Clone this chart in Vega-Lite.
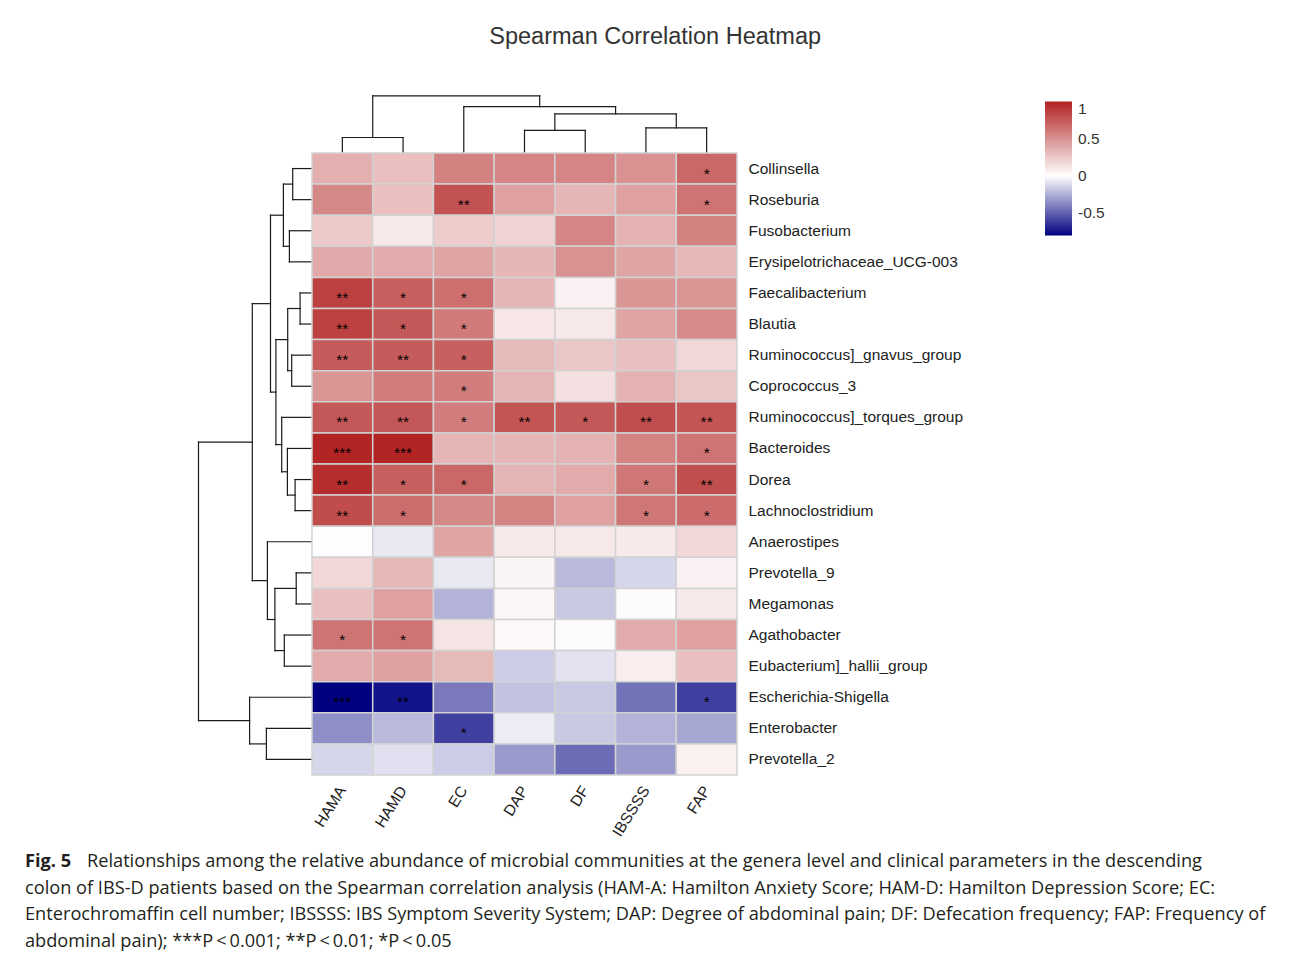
{
  "$schema": "https://vega.github.io/schema/vega-lite/v6.json",
  "background": "white",
  "padding": {"left": 25, "top": 25, "right": 10, "bottom": 5},
  "title": {"text": "Spearman Correlation Heatmap", "fontSize": 23.5, "font": "Liberation Sans", "fontWeight": "normal", "color": "#333333", "anchor": "middle", "frame": "bounds", "dx": 10, "offset": 45.5},
  "config": {"view": {"stroke": null}, "font": "Liberation Sans"},
  "bounds": "flush",
  "spacing": 0,
  "columns": 3,
  "resolve": {"scale": {"color": "independent"}, "legend": {"color": "independent"}},
  "concat": [
    {"width": 173, "height": 58.5, "data": {"values": [{}]}, "mark": {"type": "point", "opacity": 0}, "encoding": {}},
    {"width": 114, "height": 58.5, "data": {"values": [{}]}, "mark": {"type": "point", "opacity": 0}, "encoding": {}},
    {
      "width": 425, "height": 58.5,
      "data": {"values": [
        {"x": 0, "x2": 0, "y": 0, "y2": 15}, {"x": 1, "x2": 1, "y": 0, "y2": 15}, {"x": 0, "x2": 1, "y": 15, "y2": 15},
        {"x": 3, "x2": 3, "y": 0, "y2": 22.2}, {"x": 4, "x2": 4, "y": 0, "y2": 22.2}, {"x": 3, "x2": 4, "y": 22.2, "y2": 22.2},
        {"x": 5, "x2": 5, "y": 0, "y2": 24.7}, {"x": 6, "x2": 6, "y": 0, "y2": 24.7}, {"x": 5, "x2": 6, "y": 24.7, "y2": 24.7},
        {"x": 3.5, "x2": 3.5, "y": 22.2, "y2": 38.7}, {"x": 5.5, "x2": 5.5, "y": 24.7, "y2": 38.7}, {"x": 3.5, "x2": 5.5, "y": 38.7, "y2": 38.7},
        {"x": 2, "x2": 2, "y": 0, "y2": 45.9}, {"x": 4.5, "x2": 4.5, "y": 38.7, "y2": 45.9}, {"x": 2, "x2": 4.5, "y": 45.9, "y2": 45.9},
        {"x": 0.5, "x2": 0.5, "y": 15, "y2": 56.6}, {"x": 3.25, "x2": 3.25, "y": 45.9, "y2": 56.6}, {"x": 0.5, "x2": 3.25, "y": 56.6, "y2": 56.6}
      ]},
      "mark": {"type": "rule", "color": "#1a1a1a", "strokeWidth": 1.2, "strokeCap": "square"},
      "encoding": {
        "x": {"field": "x", "type": "quantitative", "scale": {"domain": [-0.5, 6.5], "nice": false, "zero": false}, "axis": null},
        "x2": {"field": "x2"},
        "y": {"field": "y", "type": "quantitative", "scale": {"domain": [0, 58.5], "nice": false, "zero": false}, "axis": null},
        "y2": {"field": "y2"}
      }
    },
    {"width": 173, "height": 622, "data": {"values": [{}]}, "mark": {"type": "point", "opacity": 0}, "encoding": {}},
    {
      "width": 114, "height": 622,
      "data": {"values": [
        {"x": 0, "x2": 19.3, "y": 0, "y2": 0}, {"x": 0, "x2": 19.3, "y": 1, "y2": 1}, {"x": 19.3, "x2": 19.3, "y": 0, "y2": 1},
        {"x": 0, "x2": 22.6, "y": 2, "y2": 2}, {"x": 0, "x2": 22.6, "y": 3, "y2": 3}, {"x": 22.6, "x2": 22.6, "y": 2, "y2": 3},
        {"x": 19.3, "x2": 28.6, "y": 0.5, "y2": 0.5}, {"x": 22.6, "x2": 28.6, "y": 2.5, "y2": 2.5}, {"x": 28.6, "x2": 28.6, "y": 0.5, "y2": 2.5},
        {"x": 0, "x2": 11.9, "y": 4, "y2": 4}, {"x": 0, "x2": 11.9, "y": 5, "y2": 5}, {"x": 11.9, "x2": 11.9, "y": 4, "y2": 5},
        {"x": 0, "x2": 20.3, "y": 6, "y2": 6}, {"x": 0, "x2": 20.3, "y": 7, "y2": 7}, {"x": 20.3, "x2": 20.3, "y": 6, "y2": 7},
        {"x": 11.9, "x2": 24.3, "y": 4.5, "y2": 4.5}, {"x": 20.3, "x2": 24.3, "y": 6.5, "y2": 6.5}, {"x": 24.3, "x2": 24.3, "y": 4.5, "y2": 6.5},
        {"x": 0, "x2": 16.9, "y": 10, "y2": 10}, {"x": 0, "x2": 16.9, "y": 11, "y2": 11}, {"x": 16.9, "x2": 16.9, "y": 10, "y2": 11},
        {"x": 0, "x2": 24.6, "y": 9, "y2": 9}, {"x": 16.9, "x2": 24.6, "y": 10.5, "y2": 10.5}, {"x": 24.6, "x2": 24.6, "y": 9, "y2": 10.5},
        {"x": 0, "x2": 30.3, "y": 8, "y2": 8}, {"x": 24.6, "x2": 30.3, "y": 9.75, "y2": 9.75}, {"x": 30.3, "x2": 30.3, "y": 8, "y2": 9.75},
        {"x": 24.3, "x2": 36.1, "y": 5.5, "y2": 5.5}, {"x": 30.3, "x2": 36.1, "y": 8.875, "y2": 8.875}, {"x": 36.1, "x2": 36.1, "y": 5.5, "y2": 8.875},
        {"x": 28.6, "x2": 41.5, "y": 1.5, "y2": 1.5}, {"x": 36.1, "x2": 41.5, "y": 7.1875, "y2": 7.1875}, {"x": 41.5, "x2": 41.5, "y": 1.5, "y2": 7.1875},
        {"x": 0, "x2": 15.8, "y": 13, "y2": 13}, {"x": 0, "x2": 15.8, "y": 14, "y2": 14}, {"x": 15.8, "x2": 15.8, "y": 13, "y2": 14},
        {"x": 0, "x2": 27.7, "y": 15, "y2": 15}, {"x": 0, "x2": 27.7, "y": 16, "y2": 16}, {"x": 27.7, "x2": 27.7, "y": 15, "y2": 16},
        {"x": 15.8, "x2": 37.1, "y": 13.5, "y2": 13.5}, {"x": 27.7, "x2": 37.1, "y": 15.5, "y2": 15.5}, {"x": 37.1, "x2": 37.1, "y": 13.5, "y2": 15.5},
        {"x": 0, "x2": 44.6, "y": 12, "y2": 12}, {"x": 37.1, "x2": 44.6, "y": 14.5, "y2": 14.5}, {"x": 44.6, "x2": 44.6, "y": 12, "y2": 14.5},
        {"x": 41.5, "x2": 59.7, "y": 4.34375, "y2": 4.34375}, {"x": 44.6, "x2": 59.7, "y": 13.25, "y2": 13.25}, {"x": 59.7, "x2": 59.7, "y": 4.34375, "y2": 13.25},
        {"x": 0, "x2": 45.6, "y": 18, "y2": 18}, {"x": 0, "x2": 45.6, "y": 19, "y2": 19}, {"x": 45.6, "x2": 45.6, "y": 18, "y2": 19},
        {"x": 0, "x2": 62.4, "y": 17, "y2": 17}, {"x": 45.6, "x2": 62.4, "y": 18.5, "y2": 18.5}, {"x": 62.4, "x2": 62.4, "y": 17, "y2": 18.5},
        {"x": 59.7, "x2": 113.5, "y": 8.796875, "y2": 8.796875}, {"x": 62.4, "x2": 113.5, "y": 17.75, "y2": 17.75}, {"x": 113.5, "x2": 113.5, "y": 8.796875, "y2": 17.75}
      ]},
      "mark": {"type": "rule", "color": "#1a1a1a", "strokeWidth": 1.2, "strokeCap": "square"},
      "encoding": {
        "x": {"field": "x", "type": "quantitative", "scale": {"domain": [0, 114], "reverse": true, "nice": false, "zero": false}, "axis": null},
        "x2": {"field": "x2"},
        "y": {"field": "y", "type": "quantitative", "scale": {"domain": [-0.5, 19.5], "reverse": true, "nice": false, "zero": false}, "axis": null},
        "y2": {"field": "y2"}
      }
    },
    {
      "width": 425, "height": 622,
      "data": {"values": [
        {"g": "Collinsella", "v": "HAMA", "r": 0.36, "s": ""}, {"g": "Collinsella", "v": "HAMD", "r": 0.29, "s": ""}, {"g": "Collinsella", "v": "EC", "r": 0.57, "s": ""}, {"g": "Collinsella", "v": "DAP", "r": 0.55, "s": ""}, {"g": "Collinsella", "v": "DF", "r": 0.55, "s": ""}, {"g": "Collinsella", "v": "IBSSSS", "r": 0.5, "s": ""}, {"g": "Collinsella", "v": "FAP", "r": 0.69, "s": "*"},
        {"g": "Roseburia", "v": "HAMA", "r": 0.54, "s": ""}, {"g": "Roseburia", "v": "HAMD", "r": 0.29, "s": ""}, {"g": "Roseburia", "v": "EC", "r": 0.78, "s": "**"}, {"g": "Roseburia", "v": "DAP", "r": 0.43, "s": ""}, {"g": "Roseburia", "v": "DF", "r": 0.33, "s": ""}, {"g": "Roseburia", "v": "IBSSSS", "r": 0.43, "s": ""}, {"g": "Roseburia", "v": "FAP", "r": 0.63, "s": "*"},
        {"g": "Fusobacterium", "v": "HAMA", "r": 0.25, "s": ""}, {"g": "Fusobacterium", "v": "HAMD", "r": 0.1, "s": ""}, {"g": "Fusobacterium", "v": "EC", "r": 0.23, "s": ""}, {"g": "Fusobacterium", "v": "DAP", "r": 0.2, "s": ""}, {"g": "Fusobacterium", "v": "DF", "r": 0.55, "s": ""}, {"g": "Fusobacterium", "v": "IBSSSS", "r": 0.35, "s": ""}, {"g": "Fusobacterium", "v": "FAP", "r": 0.57, "s": ""},
        {"g": "Erysipelotrichaceae_UCG-003", "v": "HAMA", "r": 0.39, "s": ""}, {"g": "Erysipelotrichaceae_UCG-003", "v": "HAMD", "r": 0.38, "s": ""}, {"g": "Erysipelotrichaceae_UCG-003", "v": "EC", "r": 0.41, "s": ""}, {"g": "Erysipelotrichaceae_UCG-003", "v": "DAP", "r": 0.33, "s": ""}, {"g": "Erysipelotrichaceae_UCG-003", "v": "DF", "r": 0.5, "s": ""}, {"g": "Erysipelotrichaceae_UCG-003", "v": "IBSSSS", "r": 0.41, "s": ""}, {"g": "Erysipelotrichaceae_UCG-003", "v": "FAP", "r": 0.32, "s": ""},
        {"g": "Faecalibacterium", "v": "HAMA", "r": 0.86, "s": "**"}, {"g": "Faecalibacterium", "v": "HAMD", "r": 0.72, "s": "*"}, {"g": "Faecalibacterium", "v": "EC", "r": 0.65, "s": "*"}, {"g": "Faecalibacterium", "v": "DAP", "r": 0.33, "s": ""}, {"g": "Faecalibacterium", "v": "DF", "r": 0.06, "s": ""}, {"g": "Faecalibacterium", "v": "IBSSSS", "r": 0.48, "s": ""}, {"g": "Faecalibacterium", "v": "FAP", "r": 0.48, "s": ""},
        {"g": "Blautia", "v": "HAMA", "r": 0.86, "s": "**"}, {"g": "Blautia", "v": "HAMD", "r": 0.75, "s": "*"}, {"g": "Blautia", "v": "EC", "r": 0.6, "s": "*"}, {"g": "Blautia", "v": "DAP", "r": 0.11, "s": ""}, {"g": "Blautia", "v": "DF", "r": 0.1, "s": ""}, {"g": "Blautia", "v": "IBSSSS", "r": 0.41, "s": ""}, {"g": "Blautia", "v": "FAP", "r": 0.53, "s": ""},
        {"g": "Ruminococcus]_gnavus_group", "v": "HAMA", "r": 0.74, "s": "**"}, {"g": "Ruminococcus]_gnavus_group", "v": "HAMD", "r": 0.74, "s": "**"}, {"g": "Ruminococcus]_gnavus_group", "v": "EC", "r": 0.72, "s": "*"}, {"g": "Ruminococcus]_gnavus_group", "v": "DAP", "r": 0.31, "s": ""}, {"g": "Ruminococcus]_gnavus_group", "v": "DF", "r": 0.26, "s": ""}, {"g": "Ruminococcus]_gnavus_group", "v": "IBSSSS", "r": 0.29, "s": ""}, {"g": "Ruminococcus]_gnavus_group", "v": "FAP", "r": 0.18, "s": ""},
        {"g": "Coprococcus_3", "v": "HAMA", "r": 0.48, "s": ""}, {"g": "Coprococcus_3", "v": "HAMD", "r": 0.59, "s": ""}, {"g": "Coprococcus_3", "v": "EC", "r": 0.59, "s": "*"}, {"g": "Coprococcus_3", "v": "DAP", "r": 0.34, "s": ""}, {"g": "Coprococcus_3", "v": "DF", "r": 0.14, "s": ""}, {"g": "Coprococcus_3", "v": "IBSSSS", "r": 0.35, "s": ""}, {"g": "Coprococcus_3", "v": "FAP", "r": 0.26, "s": ""},
        {"g": "Ruminococcus]_torques_group", "v": "HAMA", "r": 0.76, "s": "**"}, {"g": "Ruminococcus]_torques_group", "v": "HAMD", "r": 0.76, "s": "**"}, {"g": "Ruminococcus]_torques_group", "v": "EC", "r": 0.59, "s": "*"}, {"g": "Ruminococcus]_torques_group", "v": "DAP", "r": 0.77, "s": "**"}, {"g": "Ruminococcus]_torques_group", "v": "DF", "r": 0.76, "s": "*"}, {"g": "Ruminococcus]_torques_group", "v": "IBSSSS", "r": 0.8, "s": "**"}, {"g": "Ruminococcus]_torques_group", "v": "FAP", "r": 0.77, "s": "**"},
        {"g": "Bacteroides", "v": "HAMA", "r": 0.99, "s": "***"}, {"g": "Bacteroides", "v": "HAMD", "r": 0.99, "s": "***"}, {"g": "Bacteroides", "v": "EC", "r": 0.33, "s": ""}, {"g": "Bacteroides", "v": "DAP", "r": 0.33, "s": ""}, {"g": "Bacteroides", "v": "DF", "r": 0.35, "s": ""}, {"g": "Bacteroides", "v": "IBSSSS", "r": 0.56, "s": ""}, {"g": "Bacteroides", "v": "FAP", "r": 0.63, "s": "*"},
        {"g": "Dorea", "v": "HAMA", "r": 0.95, "s": "**"}, {"g": "Dorea", "v": "HAMD", "r": 0.72, "s": "*"}, {"g": "Dorea", "v": "EC", "r": 0.69, "s": "*"}, {"g": "Dorea", "v": "DAP", "r": 0.34, "s": ""}, {"g": "Dorea", "v": "DF", "r": 0.38, "s": ""}, {"g": "Dorea", "v": "IBSSSS", "r": 0.62, "s": "*"}, {"g": "Dorea", "v": "FAP", "r": 0.8, "s": "**"},
        {"g": "Lachnoclostridium", "v": "HAMA", "r": 0.81, "s": "**"}, {"g": "Lachnoclostridium", "v": "HAMD", "r": 0.66, "s": "*"}, {"g": "Lachnoclostridium", "v": "EC", "r": 0.54, "s": ""}, {"g": "Lachnoclostridium", "v": "DAP", "r": 0.56, "s": ""}, {"g": "Lachnoclostridium", "v": "DF", "r": 0.43, "s": ""}, {"g": "Lachnoclostridium", "v": "IBSSSS", "r": 0.62, "s": "*"}, {"g": "Lachnoclostridium", "v": "FAP", "r": 0.67, "s": "*"},
        {"g": "Anaerostipes", "v": "HAMA", "r": 0.01, "s": ""}, {"g": "Anaerostipes", "v": "HAMD", "r": -0.07, "s": ""}, {"g": "Anaerostipes", "v": "EC", "r": 0.41, "s": ""}, {"g": "Anaerostipes", "v": "DAP", "r": 0.1, "s": ""}, {"g": "Anaerostipes", "v": "DF", "r": 0.1, "s": ""}, {"g": "Anaerostipes", "v": "IBSSSS", "r": 0.095, "s": ""}, {"g": "Anaerostipes", "v": "FAP", "r": 0.18, "s": ""},
        {"g": "Prevotella_9", "v": "HAMA", "r": 0.18, "s": ""}, {"g": "Prevotella_9", "v": "HAMD", "r": 0.32, "s": ""}, {"g": "Prevotella_9", "v": "EC", "r": -0.07, "s": ""}, {"g": "Prevotella_9", "v": "DAP", "r": 0.05, "s": ""}, {"g": "Prevotella_9", "v": "DF", "r": -0.22, "s": ""}, {"g": "Prevotella_9", "v": "IBSSSS", "r": -0.13, "s": ""}, {"g": "Prevotella_9", "v": "FAP", "r": 0.06, "s": ""},
        {"g": "Megamonas", "v": "HAMA", "r": 0.29, "s": ""}, {"g": "Megamonas", "v": "HAMD", "r": 0.43, "s": ""}, {"g": "Megamonas", "v": "EC", "r": -0.24, "s": ""}, {"g": "Megamonas", "v": "DAP", "r": 0.04, "s": ""}, {"g": "Megamonas", "v": "DF", "r": -0.17, "s": ""}, {"g": "Megamonas", "v": "IBSSSS", "r": 0.02, "s": ""}, {"g": "Megamonas", "v": "FAP", "r": 0.1, "s": ""},
        {"g": "Agathobacter", "v": "HAMA", "r": 0.63, "s": "*"}, {"g": "Agathobacter", "v": "HAMD", "r": 0.63, "s": "*"}, {"g": "Agathobacter", "v": "EC", "r": 0.12, "s": ""}, {"g": "Agathobacter", "v": "DAP", "r": 0.03, "s": ""}, {"g": "Agathobacter", "v": "DF", "r": 0.02, "s": ""}, {"g": "Agathobacter", "v": "IBSSSS", "r": 0.38, "s": ""}, {"g": "Agathobacter", "v": "FAP", "r": 0.43, "s": ""},
        {"g": "Eubacterium]_hallii_group", "v": "HAMA", "r": 0.38, "s": ""}, {"g": "Eubacterium]_hallii_group", "v": "HAMD", "r": 0.42, "s": ""}, {"g": "Eubacterium]_hallii_group", "v": "EC", "r": 0.31, "s": ""}, {"g": "Eubacterium]_hallii_group", "v": "DAP", "r": -0.16, "s": ""}, {"g": "Eubacterium]_hallii_group", "v": "DF", "r": -0.09, "s": ""}, {"g": "Eubacterium]_hallii_group", "v": "IBSSSS", "r": 0.08, "s": ""}, {"g": "Eubacterium]_hallii_group", "v": "FAP", "r": 0.29, "s": ""},
        {"g": "Escherichia-Shigella", "v": "HAMA", "r": -0.8, "s": "***"}, {"g": "Escherichia-Shigella", "v": "HAMD", "r": -0.74, "s": "**"}, {"g": "Escherichia-Shigella", "v": "EC", "r": -0.42, "s": ""}, {"g": "Escherichia-Shigella", "v": "DAP", "r": -0.19, "s": ""}, {"g": "Escherichia-Shigella", "v": "DF", "r": -0.17, "s": ""}, {"g": "Escherichia-Shigella", "v": "IBSSSS", "r": -0.44, "s": ""}, {"g": "Escherichia-Shigella", "v": "FAP", "r": -0.6, "s": "*"},
        {"g": "Enterobacter", "v": "HAMA", "r": -0.35, "s": ""}, {"g": "Enterobacter", "v": "HAMD", "r": -0.22, "s": ""}, {"g": "Enterobacter", "v": "EC", "r": -0.6, "s": "*"}, {"g": "Enterobacter", "v": "DAP", "r": -0.06, "s": ""}, {"g": "Enterobacter", "v": "DF", "r": -0.17, "s": ""}, {"g": "Enterobacter", "v": "IBSSSS", "r": -0.24, "s": ""}, {"g": "Enterobacter", "v": "FAP", "r": -0.28, "s": ""},
        {"g": "Prevotella_2", "v": "HAMA", "r": -0.13, "s": ""}, {"g": "Prevotella_2", "v": "HAMD", "r": -0.1, "s": ""}, {"g": "Prevotella_2", "v": "EC", "r": -0.16, "s": ""}, {"g": "Prevotella_2", "v": "DAP", "r": -0.32, "s": ""}, {"g": "Prevotella_2", "v": "DF", "r": -0.46, "s": ""}, {"g": "Prevotella_2", "v": "IBSSSS", "r": -0.32, "s": ""}, {"g": "Prevotella_2", "v": "FAP", "r": 0.07, "s": ""}
      ]},
      "encoding": {
        "x": {"field": "v", "type": "nominal", "sort": ["HAMA", "HAMD", "EC", "DAP", "DF", "IBSSSS", "FAP"], "scale": {"paddingInner": 0, "paddingOuter": 0},
              "axis": {"title": null, "ticks": false, "domain": false, "labelAngle": -58, "labelAlign": "right", "labelBaseline": "middle", "labelPadding": 12, "labelFontSize": 15.5, "labelColor": "#222222", "labelFont": "Liberation Sans"}},
        "y": {"field": "g", "type": "nominal", "sort": ["Collinsella", "Roseburia", "Fusobacterium", "Erysipelotrichaceae_UCG-003", "Faecalibacterium", "Blautia", "Ruminococcus]_gnavus_group", "Coprococcus_3", "Ruminococcus]_torques_group", "Bacteroides", "Dorea", "Lachnoclostridium", "Anaerostipes", "Prevotella_9", "Megamonas", "Agathobacter", "Eubacterium]_hallii_group", "Escherichia-Shigella", "Enterobacter", "Prevotella_2"],
              "scale": {"paddingInner": 0, "paddingOuter": 0},
              "axis": {"orient": "right", "title": null, "ticks": false, "domain": false, "labelPadding": 11, "labelFontSize": 15.5, "labelLimit": 400, "labelColor": "#222222", "labelFont": "Liberation Sans"}}
      },
      "layer": [
        {
          "mark": {"type": "rect", "stroke": "#d2d2d2", "strokeWidth": 1.5},
          "encoding": {
            "color": {"field": "r", "type": "quantitative",
              "scale": {"domain": [-0.8, 0, 1], "range": ["#000080", "#ffffff", "#b22222"], "interpolate": "rgb"},
              "legend": {"title": null, "orient": "none", "legendX": 733, "legendY": -51.5, "direction": "vertical", "gradientLength": 134, "gradientThickness": 27, "gradientStrokeWidth": 0, "values": [-0.5, 0, 0.5, 1], "labelExpr": "'' + datum.value", "labelBaseline": "middle", "labelFontSize": 15.5, "labelColor": "#333333", "labelFont": "Liberation Sans", "labelOffset": 6}}
          }
        },
        {
          "transform": [{"filter": "datum.s != ''"}],
          "mark": {"type": "text", "fontSize": 15.5, "color": "#000000", "baseline": "middle", "dy": 5, "font": "Liberation Sans"},
          "encoding": {"text": {"field": "s"}}
        }
      ]
    },
    {"width": 173, "height": 73.4, "data": {"values": [{}]}, "mark": {"type": "point", "opacity": 0}, "encoding": {}},
    {"width": 114, "height": 73.4, "data": {"values": [{}]}, "mark": {"type": "point", "opacity": 0}, "encoding": {}},
    {"width": 425, "height": 73.4, "data": {"values": [{}]}, "mark": {"type": "point", "opacity": 0}, "encoding": {}},
    {
      "width": 173, "height": 106,
      "data": {"values": [
        {"line": 1, "t": "Relationships among the relative abundance of microbial communities at the genera level and clinical parameters in the descending"},
        {"line": 2, "t": "colon of IBS-D patients based on the Spearman correlation analysis (HAM-A: Hamilton Anxiety Score; HAM-D: Hamilton Depression Score; EC:"},
        {"line": 3, "t": "Enterochromaffin cell number; IBSSSS: IBS Symptom Severity System; DAP: Degree of abdominal pain; DF: Defecation frequency; FAP: Frequency of"},
        {"line": 4, "t": "abdominal pain); ***P\u2009<\u20090.001; **P\u2009<\u20090.01; *P\u2009<\u20090.05"}
      ]},
      "encoding": {
        "y": {"field": "line", "type": "quantitative", "scale": {"domain": [0.5, 4.5], "reverse": true, "nice": false, "zero": false}, "axis": null},
        "x": {"value": 0}
      },
      "layer": [
        {
          "transform": [{"filter": "datum.line == 1"}],
          "mark": {"type": "text", "align": "left", "baseline": "middle", "font": "Open Sans", "fontSize": 18.2, "color": "#231f20", "dx": 62},
          "encoding": {"text": {"field": "t"}}
        },
        {
          "transform": [{"filter": "datum.line > 1"}],
          "mark": {"type": "text", "align": "left", "baseline": "middle", "font": "Open Sans", "fontSize": 18.2, "color": "#231f20"},
          "encoding": {"text": {"field": "t"}}
        },
        {
          "transform": [{"filter": "datum.line == 1"}, {"calculate": "'Fig. 5'", "as": "lab"}],
          "mark": {"type": "text", "align": "left", "baseline": "middle", "font": "Open Sans", "fontSize": 18.2, "fontWeight": "bold", "color": "#231f20"},
          "encoding": {"text": {"field": "lab"}}
        }
      ]
    }
  ]
}
